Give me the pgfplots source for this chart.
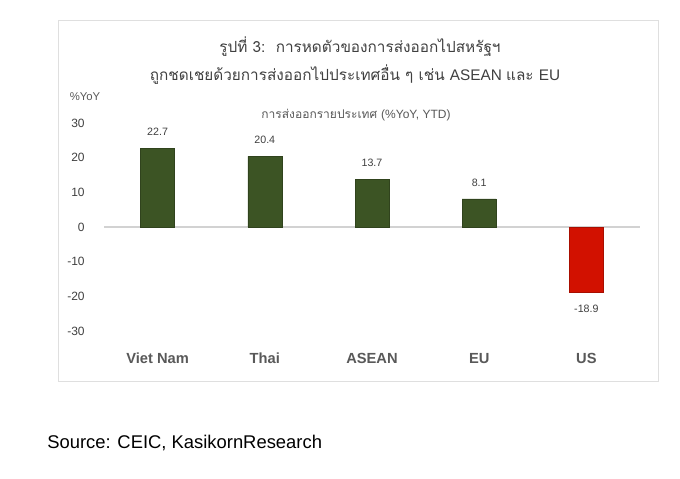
\documentclass[border=0pt]{standalone}
\usepackage{fontspec}
\usepackage{pgfplots}
\pgfplotsset{compat=1.18}
\setmainfont{Liberation Sans}
\newfontfamily\thaifont[Script=Thai]{Loma}
\definecolor{bargreen}{RGB}{60,84,36}
\definecolor{barred}{RGB}{210,17,0}
\definecolor{txtgray}{RGB}{89,89,89}
\definecolor{titlegray}{RGB}{64,64,64}
\begin{document}
\begin{tikzpicture}[x=0.75pt,y=0.75pt]
\path[fill=white] (0,0) rectangle (680,478);
\draw[gray!25] (58,458) rectangle (658,97);
\coordinate (A) at (104,147);
\node[text=titlegray,font=\fontsize{11.5}{13}\selectfont] at (360,431) {\thaifont รูปที่ 3:\ \ การหดตัวของการส่งออกไปสหรัฐฯ};
\node[text=titlegray,font=\fontsize{11.5}{13}\selectfont] at (355,403) {\thaifont ถูกชดเชยด้วยการส่งออกไปประเทศอื่น ๆ เช่น \normalfont ASEAN \thaifont และ \normalfont EU};
\node[text=txtgray,font=\fontsize{9}{11}\selectfont] at (356,363) {\thaifont การส่งออกรายประเทศ \normalfont(\%YoY, YTD)};
\node[text=txtgray,font=\fontsize{8.5}{10}\selectfont] at (85,381) {\%YoY};
\node[anchor=west,inner sep=0pt,font=\fontsize{13.8}{16}\selectfont] at (47,35) {Source: CEIC, KasikornResearch};
\begin{axis}[
  at={(A)}, anchor=south west,
  scale only axis, width=402pt, height=156pt,
  xmin=-0.5, xmax=4.5, ymin=-30, ymax=30,
  axis line style={draw=none},
  major tick length=0pt,
  ytick={-30,-20,...,30},
  xtick={0,1,2,3,4},
  xticklabels={Viet Nam,Thai,ASEAN,EU,US},
  xticklabel style={font=\fontsize{11}{13}\selectfont\bfseries, text=txtgray, yshift=-13pt},
  yticklabel style={font=\fontsize{9}{11}\selectfont, text=titlegray, xshift=-11pt},
  /pgf/number format/assume math mode=true,
  extra y ticks={0}, extra y tick labels={},
  extra y tick style={grid=major, major grid style={gray!35, line width=0.8pt}},
  ybar, bar width=25.5pt, bar shift=0pt,
  nodes near coords={\pgfmathprintnumber[fixed,fixed zerofill,precision=1,assume math mode=true]{\pgfplotspointmeta}},
  every node near coord/.append style={font=\fontsize{8}{10}\selectfont, text=titlegray},
  clip=false,
]
\addplot[fill=bargreen, draw=bargreen!80!black, every node near coord/.append style={yshift=6pt}] coordinates {(0,22.7) (1,20.4) (2,13.7) (3,8.1)};
\addplot[fill=barred, draw=barred!80!black, every node near coord/.append style={yshift=-6pt}] coordinates {(4,-18.9)};
\end{axis}
\end{tikzpicture}
\end{document}
